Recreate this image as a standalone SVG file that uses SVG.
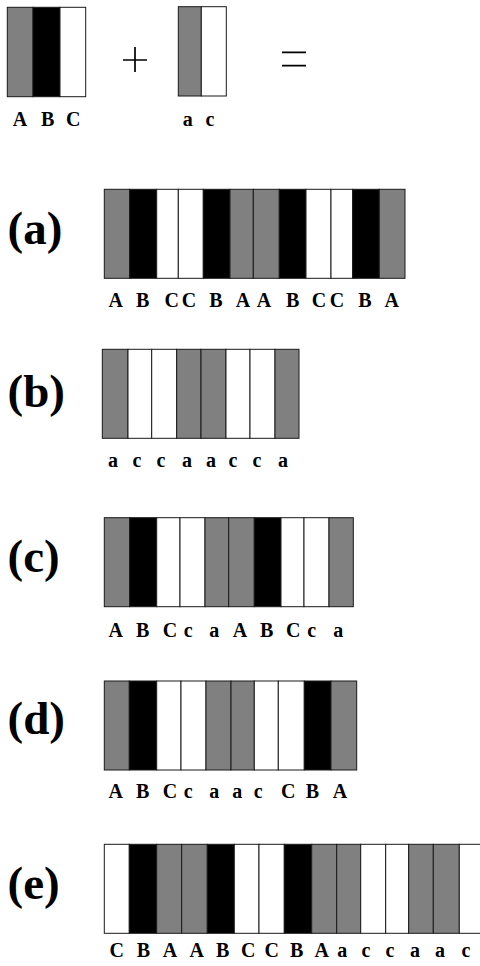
<svg xmlns="http://www.w3.org/2000/svg" width="480" height="966" viewBox="0 0 480 966">
<style>
.s{stroke:#1a1a1a;stroke-width:1}
.g{fill:#808080}.k{fill:#000}.w{fill:#fff}
text{font-family:"Liberation Serif",serif;font-weight:bold;fill:#000}
.l{font-size:20px;text-anchor:middle}
.big{font-size:47px}
.op{stroke:#000;stroke-width:1.7;fill:none}
</style>
<rect x="0" y="0" width="480" height="966" fill="#fff"/>
<g id="top" class="s">
<rect class="g" x="7.3" y="7.3" width="25.7" height="89.4"/>
<rect class="k" x="33" y="7.3" width="27" height="89.4"/>
<rect class="w" x="60" y="7.3" width="25.7" height="89.4"/>
<rect class="g" x="178.3" y="6.7" width="23" height="89.3"/>
<rect class="w" x="201.3" y="6.7" width="25" height="89.3"/>
</g>
<g id="top-labels">
<text class="l" x="20" y="126">A</text><text class="l" x="47.7" y="126">B</text><text class="l" x="73.3" y="126">C</text>
<path class="op" d="M123 60H147M135 47V72"/>
<text class="l" x="187.7" y="126">a</text><text class="l" x="210" y="126">c</text>
<path class="op" d="M282 52.3H306M282 65.7H306"/>
</g>
<g id="row-a">
<text class="big" x="7.5" y="243.5">(a)</text>
<g class="s">
<rect class="g" x="104.3" y="189.3" width="25.4" height="89"/>
<rect class="k" x="129.7" y="189.3" width="27" height="89"/>
<rect class="w" x="156.7" y="189.3" width="21.6" height="89"/>
<rect class="w" x="178.3" y="189.3" width="25" height="89"/>
<rect class="k" x="203.3" y="189.3" width="26.7" height="89"/>
<rect class="g" x="230" y="189.3" width="23.3" height="89"/>
<rect class="g" x="253.3" y="189.3" width="26" height="89"/>
<rect class="k" x="279.3" y="189.3" width="26.7" height="89"/>
<rect class="w" x="306" y="189.3" width="25" height="89"/>
<rect class="w" x="331" y="189.3" width="21.7" height="89"/>
<rect class="k" x="352.7" y="189.3" width="26.6" height="89"/>
<rect class="g" x="379.3" y="189.3" width="25.7" height="89"/>
</g>
<text class="l" x="115.7" y="306.7">A</text><text class="l" x="142.7" y="306.7">B</text><text class="l" x="171.7" y="306.7">C</text><text class="l" x="189" y="306.7">C</text><text class="l" x="216" y="306.7">B</text><text class="l" x="243" y="306.7">A</text><text class="l" x="264" y="306.7">A</text><text class="l" x="292.7" y="306.7">B</text><text class="l" x="319" y="306.7">C</text><text class="l" x="337" y="306.7">C</text><text class="l" x="365" y="306.7">B</text><text class="l" x="391.7" y="306.7">A</text>
</g>
<g id="row-b">
<text class="big" x="7.5" y="406.8">(b)</text>
<g class="s">
<rect class="g" x="102.3" y="349.3" width="25.7" height="89"/>
<rect class="w" x="128" y="349.3" width="23.7" height="89"/>
<rect class="w" x="151.7" y="349.3" width="25" height="89"/>
<rect class="g" x="176.7" y="349.3" width="24.3" height="89"/>
<rect class="g" x="201" y="349.3" width="25" height="89"/>
<rect class="w" x="226" y="349.3" width="24" height="89"/>
<rect class="w" x="250" y="349.3" width="25" height="89"/>
<rect class="g" x="275" y="349.3" width="24" height="89"/>
</g>
<text class="l" x="113" y="467.3">a</text><text class="l" x="137" y="467.3">c</text><text class="l" x="161" y="467.3">c</text><text class="l" x="187" y="467.3">a</text><text class="l" x="211" y="467.3">a</text><text class="l" x="233" y="467.3">c</text><text class="l" x="257" y="467.3">c</text><text class="l" x="283" y="467.3">a</text>
</g>
<g id="row-c">
<text class="big" x="7.5" y="571.8">(c)</text>
<g class="s">
<rect class="g" x="104.3" y="517.7" width="25.4" height="89"/>
<rect class="k" x="129.7" y="517.7" width="27" height="89"/>
<rect class="w" x="156.7" y="517.7" width="23.3" height="89"/>
<rect class="w" x="180" y="517.7" width="25" height="89"/>
<rect class="g" x="205" y="517.7" width="23.7" height="89"/>
<rect class="g" x="228.7" y="517.7" width="25.6" height="89"/>
<rect class="k" x="254.3" y="517.7" width="26.7" height="89"/>
<rect class="w" x="281" y="517.7" width="23" height="89"/>
<rect class="w" x="304" y="517.7" width="25" height="89"/>
<rect class="g" x="329" y="517.7" width="24.3" height="89"/>
</g>
<text class="l" x="115.7" y="636.7">A</text><text class="l" x="142.7" y="636.7">B</text><text class="l" x="170" y="636.7">C</text><text class="l" x="188.3" y="636.7">c</text><text class="l" x="214.3" y="636.7">a</text><text class="l" x="240" y="636.7">A</text><text class="l" x="266.7" y="636.7">B</text><text class="l" x="293.3" y="636.7">C</text><text class="l" x="311.7" y="636.7">c</text><text class="l" x="338.3" y="636.7">a</text>
</g>
<g id="row-d">
<text class="big" x="7.5" y="733.5">(d)</text>
<g class="s">
<rect class="g" x="104.3" y="681" width="25" height="89"/>
<rect class="k" x="129.3" y="681" width="27.4" height="89"/>
<rect class="w" x="156.7" y="681" width="24.3" height="89"/>
<rect class="w" x="181" y="681" width="25" height="89"/>
<rect class="g" x="206" y="681" width="25" height="89"/>
<rect class="g" x="231" y="681" width="23.3" height="89"/>
<rect class="w" x="254.3" y="681" width="24" height="89"/>
<rect class="w" x="278.3" y="681" width="26" height="89"/>
<rect class="k" x="304.3" y="681" width="26.7" height="89"/>
<rect class="g" x="331" y="681" width="25.7" height="89"/>
</g>
<text class="l" x="115.7" y="798.3">A</text><text class="l" x="142.7" y="798.3">B</text><text class="l" x="170" y="798.3">C</text><text class="l" x="188.3" y="798.3">c</text><text class="l" x="214.3" y="798.3">a</text><text class="l" x="237.3" y="798.3">a</text><text class="l" x="258.3" y="798.3">c</text><text class="l" x="288.3" y="798.3">C</text><text class="l" x="312.3" y="798.3">B</text><text class="l" x="340" y="798.3">A</text>
</g>
<g id="row-e">
<text class="big" x="7.5" y="899.1">(e)</text>
<g class="s">
<rect class="w" x="104.3" y="844.3" width="25" height="89"/>
<rect class="k" x="129.3" y="844.3" width="27.4" height="89"/>
<rect class="g" x="156.7" y="844.3" width="25" height="89"/>
<rect class="g" x="181.7" y="844.3" width="25.6" height="89"/>
<rect class="k" x="207.3" y="844.3" width="27" height="89"/>
<rect class="w" x="234.3" y="844.3" width="24.7" height="89"/>
<rect class="w" x="259" y="844.3" width="25.3" height="89"/>
<rect class="k" x="284.3" y="844.3" width="27.4" height="89"/>
<rect class="g" x="311.7" y="844.3" width="25" height="89"/>
<rect class="g" x="336.7" y="844.3" width="24" height="89"/>
<rect class="w" x="360.7" y="844.3" width="25" height="89"/>
<rect class="w" x="385.7" y="844.3" width="23" height="89"/>
<rect class="g" x="408.7" y="844.3" width="24.6" height="89"/>
<rect class="g" x="433.3" y="844.3" width="26" height="89"/>
<rect class="w" x="459.3" y="844.3" width="30" height="89"/>
</g>
<text class="l" x="116.7" y="956.7">C</text><text class="l" x="143.3" y="956.7">B</text><text class="l" x="170" y="956.7">A</text><text class="l" x="196.7" y="956.7">A</text><text class="l" x="222.7" y="956.7">B</text><text class="l" x="248.3" y="956.7">C</text><text class="l" x="271.7" y="956.7">C</text><text class="l" x="296.7" y="956.7">B</text><text class="l" x="321.7" y="956.7">A</text><text class="l" x="342.3" y="956.7">a</text><text class="l" x="366" y="956.7">c</text><text class="l" x="390" y="956.7">c</text><text class="l" x="415" y="956.7">a</text><text class="l" x="440" y="956.7">a</text><text class="l" x="466" y="956.7">c</text>
</g>
</svg>
